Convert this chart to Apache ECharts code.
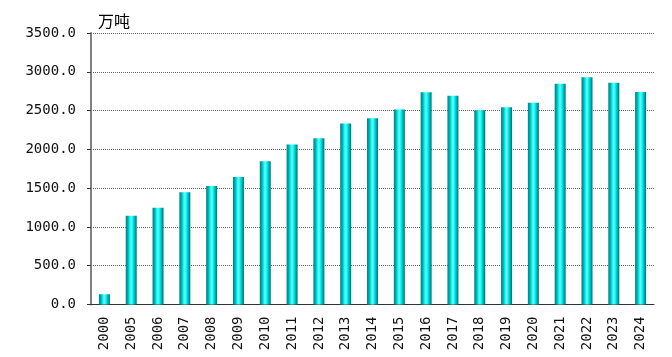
<!DOCTYPE html>
<html>
<head>
<meta charset="utf-8">
<script src="https://cdn.jsdelivr.net/npm/echarts@6/dist/echarts.min.js"></script>
<style>html,body{margin:0;padding:0;background:#fff}#c{width:672px;height:357px}</style>
</head>
<body>
<div id="c"></div>
<script>
var categories = ['2000','2005','2006','2007','2008','2009','2010','2011','2012','2013','2014','2015','2016','2017','2018','2019','2020','2021','2022','2023','2024'];
var values = [132,1145,1247,1447,1529,1645,1846,2062,2142,2333,2401,2515,2737,2692,2505,2543,2602,2845,2928,2858,2738];
var yTicks = [0,500,1000,1500,2000,2500,3000,3500];
var unitLabel = '万吨';

var chart = echarts.init(document.getElementById('c'), null, {renderer:'canvas'});
var fontFam = '"DejaVu Sans Mono", "Liberation Mono", monospace';
chart.setOption({
  animation:false,
  backgroundColor:'#fff',
  grid:{left:91,right:18,top:33,bottom:52.5,containLabel:false},
  graphic:[{type:'text',left:98,top:13,style:{text:unitLabel,font:'16px "Noto Sans CJK SC"',fill:'#000'}}],
  xAxis:{
    type:'category',data:categories,boundaryGap:true,
    axisLine:{lineStyle:{color:'#333',width:1}},
    axisTick:{inside:true,length:4,lineStyle:{color:'#333'}},
    axisLabel:{rotate:90,margin:12,fontSize:14,fontFamily:fontFam,color:'#111',interval:0}
  },
  yAxis:{
    type:'value',min:yTicks[0],max:yTicks[yTicks.length-1],interval:500,
    axisLine:{show:true,lineStyle:{color:'#808080',width:2}},
    axisTick:{show:true,length:4,lineStyle:{color:'#333'}},
    axisLabel:{margin:15,fontSize:14,fontFamily:fontFam,color:'#111',formatter:function(v){return v.toFixed(1);}},
    splitLine:{show:true,lineStyle:{color:'#666',type:[1,1],width:1}}
  },
  series:[{
    type:'bar',data:values,barWidth:11,
    itemStyle:{color:new echarts.graphic.LinearGradient(0,0,1,0,[
      {offset:0,color:'#0b7f7f'},
      {offset:0.18,color:'#00a8a8'},
      {offset:0.35,color:'#00f4f4'},
      {offset:0.5,color:'#7ffcfc'},
      {offset:0.62,color:'#00ffff'},
      {offset:0.85,color:'#00a6a6'},
      {offset:1,color:'#006f6f'}
    ])}
  }]
});
</script>
</body>
</html>
